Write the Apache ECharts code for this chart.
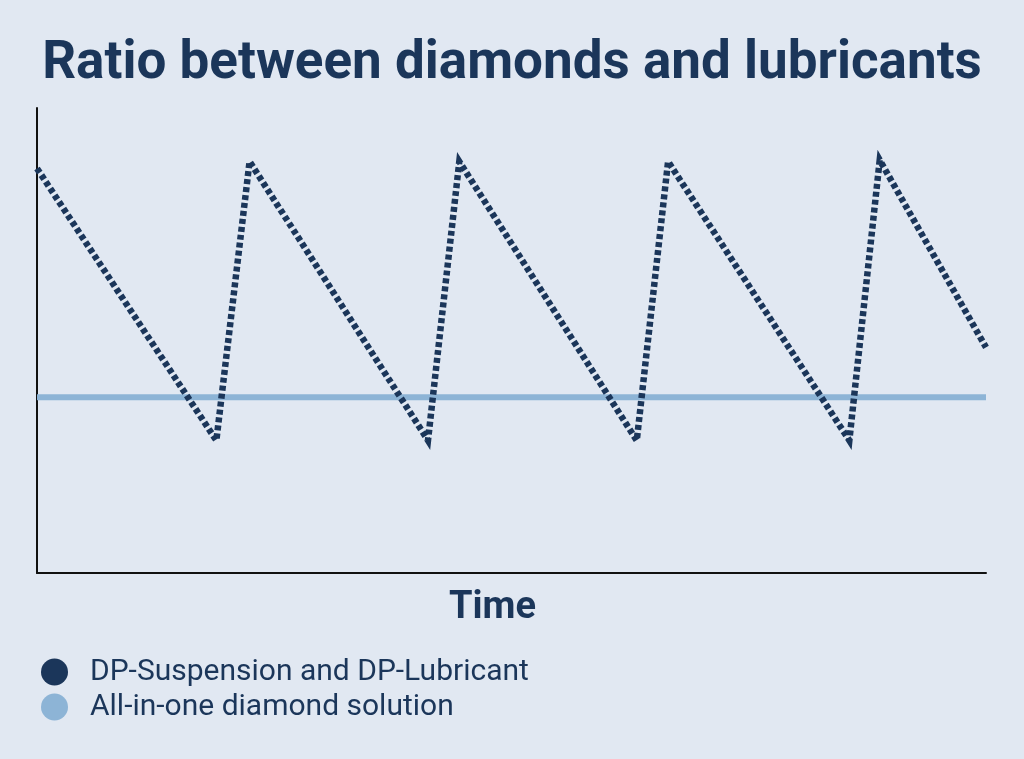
<!DOCTYPE html>
<html><head><meta charset="utf-8">
<script src="https://cdn.jsdelivr.net/npm/echarts@6/dist/echarts.min.js"></script>
<style>html,body{margin:0;padding:0;background:#e1e8f2;}#c{width:1024px;height:759px;}</style>
</head><body><div id="c"></div>
<script>
const titleText = "Ratio between diamonds and lubricants";
const xAxisName = "Time";
const seriesNames = ["DP-Suspension and DP-Lubricant", "All-in-one diamond solution"];
const sawX = [0, 18.9, 22.4, 41.2, 44.5, 63.2, 66.5, 85.6, 88.8, 100];
const sawY = [87, 28.5, 88.5, 28.5, 88.5, 28.5, 88.5, 28.5, 88.8, 48.5];
const flatX = [0, 100];
const flatY = [37.8, 37.8];
const navy = "#1b365a", light = "#8db4d6";
const chart = echarts.init(document.getElementById('c'));
chart.setOption({
  backgroundColor: "#e1e8f2",
  animation: false,
  title: { text: titleText, left: 'center', top: 33,
    textStyle: { fontFamily: 'Roboto', fontWeight: 'bold', fontSize: 53, color: navy } },
  grid: { left: 37, right: 38, top: 108, bottom: 186 },
  xAxis: { type: 'value', min: 0, max: 100, name: xAxisName, nameLocation: 'middle', nameGap: 16,
    nameTextStyle: { fontFamily: 'Roboto', fontWeight: 'bold', fontSize: 38, color: navy, padding: [0, 38, 0, 0] },
    axisLine: { show: true, lineStyle: { color: '#111', width: 2 } },
    axisTick: { show: false }, axisLabel: { show: false }, splitLine: { show: false } },
  yAxis: { type: 'value', min: 0, max: 100,
    axisLine: { show: true, lineStyle: { color: '#111', width: 2 } },
    axisTick: { show: false }, axisLabel: { show: false }, splitLine: { show: false } },
  legend: { orient: 'vertical', left: 36, top: 652, itemWidth: 27, itemHeight: 27, itemGap: 5, icon: 'circle',
    textStyle: { fontFamily: 'Roboto', fontSize: 30, color: navy, padding: [0, 0, 0, 17] },
    data: seriesNames },
  series: [
    { name: seriesNames[1], type: 'line', showSymbol: false, z: 1,
      data: flatX.map((x, i) => [x, flatY[i]]),
      itemStyle: { color: light }, lineStyle: { color: light, width: 6 } },
    { name: seriesNames[0], type: 'line', showSymbol: false, z: 2,
      data: sawX.map((x, i) => [x, sawY[i]]),
      itemStyle: { color: navy }, lineStyle: { color: navy, width: 6.5, type: [5, 3], join: 'miter', cap: 'butt' } }
  ]
});
</script></body></html>
